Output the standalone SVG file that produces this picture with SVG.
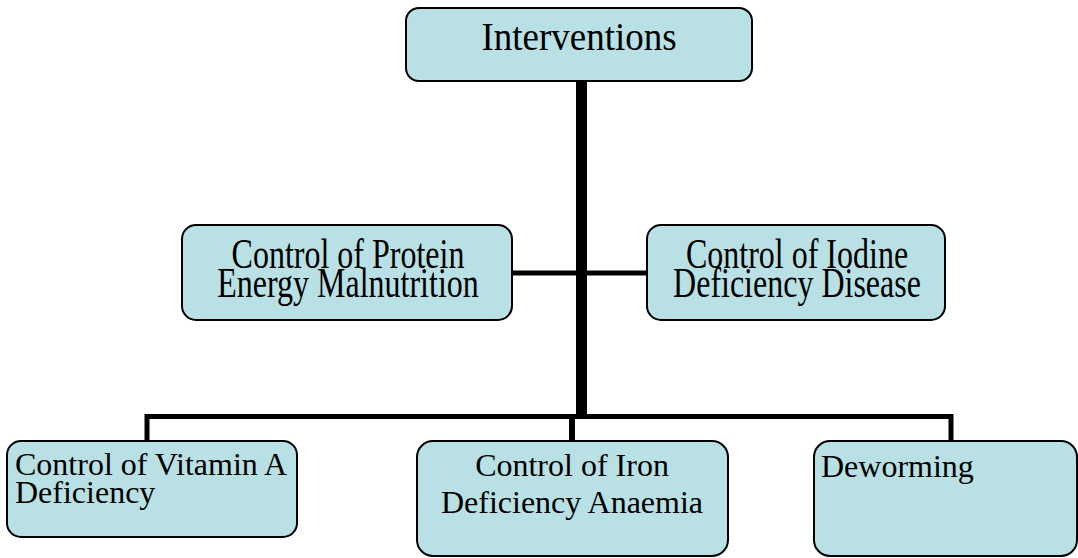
<svg xmlns="http://www.w3.org/2000/svg" width="1078" height="558" viewBox="0 0 1078 558">
<style>
.box{fill:#B9E0E4;stroke:#000;stroke-width:2}
.t{font-family:'Liberation Serif','Times New Roman','DejaVu Serif',serif;fill:#000}
.c{text-anchor:middle}
.ln{stroke:#000;fill:none;stroke-linecap:butt}
</style>
<rect width="1078" height="558" fill="#fff"/>
<g id="connectors">
<line class="ln" x1="581.5" y1="80" x2="581.5" y2="416" stroke-width="11"/>
<line class="ln" x1="512" y1="273" x2="647" y2="273" stroke-width="5"/>
<polyline class="ln" points="147,442 147,416.5 951,416.5 951,442" stroke-width="5"/>
<line class="ln" x1="572" y1="416" x2="572" y2="442" stroke-width="6"/>
</g>
<g id="interventions">
<rect class="box" x="406" y="8" width="346" height="73" rx="13"/>
<text class="t c" transform="translate(579,50) scale(1,1.06)" font-size="37">Interventions</text>
</g>
<g id="pem" font-size="32">
<rect class="box" x="182" y="225" width="330" height="95" rx="14"/>
<text class="t c" transform="translate(348,267.5) scale(1,1.32)">Control of Protein</text>
<text class="t c" transform="translate(348,297) scale(1,1.32)">Energy Malnutrition</text>
</g>
<g id="idd" font-size="32">
<rect class="box" x="647" y="225" width="298" height="95" rx="14"/>
<text class="t c" transform="translate(797,267.5) scale(1,1.32)">Control of Iodine</text>
<text class="t c" transform="translate(797,297) scale(1,1.32)">Deficiency Disease</text>
</g>
<g id="vad" font-size="32">
<rect class="box" x="7" y="441" width="290" height="96" rx="14"/>
<text class="t" x="15" y="475">Control of Vitamin A</text>
<text class="t" x="15" y="503">Deficiency</text>
</g>
<g id="ida" font-size="32">
<rect class="box" x="417" y="441" width="311" height="115" rx="16"/>
<text class="t c" x="572" y="476">Control of Iron</text>
<text class="t c" x="572" y="513">Deficiency Anaemia</text>
</g>
<g id="deworming" font-size="32">
<rect class="box" x="814" y="441" width="263" height="115" rx="16"/>
<text class="t" x="821" y="477">Deworming</text>
</g>
</svg>
